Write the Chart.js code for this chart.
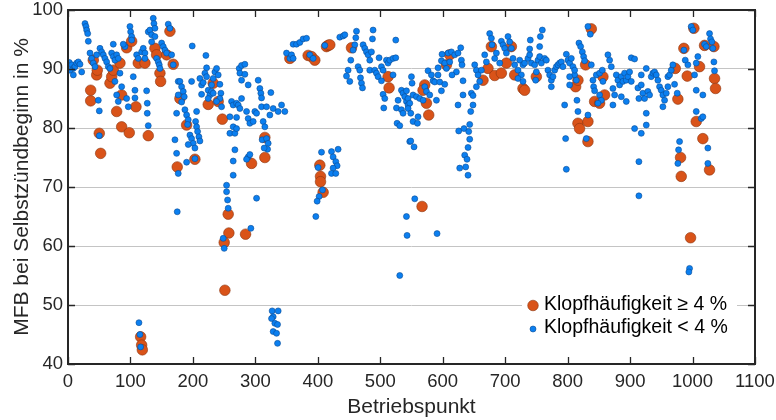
<!DOCTYPE html>
<html>
<head>
<meta charset="utf-8">
<script src="https://cdn.jsdelivr.net/npm/chart.js@4.4.1/dist/chart.umd.min.js"></script>
<style>
  html, body { margin: 0; padding: 0; background: #fff; }
</style>
</head>
<body>
<canvas id="chart" width="776" height="420"></canvas>
<script>
// series labels
const highLabel = 'Klopfhäufigkeit \u2265 4 %';
const lowLabel = 'Klopfhäufigkeit < 4 %';

// axis ranges
const xRange = [0, 1100];
const yRange = [40, 100];

// Klopfhäufigkeit >= 4 %  [Betriebspunkt, MFB]
const highPts = [
  [36.3,86.4],[36.3,84.6],[45.9,89.0],[46.9,89.8],[50.1,79.1],[52.3,75.7],[40.5,91.5],[77.9,82.8],[85.9,85.6],[85.9,80.2],
  [98.1,79.2],[67.2,87.6],[69.9,88.7],[72.5,89.8],[83.2,91.0],[108.8,83.6],[93.9,93.6],[101.9,94.7],[112.5,91.0],[123.2,91.0],
  [128.5,78.7],[139.2,93.5],[141.9,92.4],[147.2,89.3],[148.3,87.9],[157.9,92.4],[163.2,96.4],[168.5,90.8],[174.9,73.4],
  [116.3,44.6],[117.9,43.2],[119.0,42.4],
  [179.2,85.0],[189.9,80.5],[203.2,74.7],[224.5,84.0],[232.5,87.6],[240.5,84.5],[247.1,81.5],[293.9,74.0],[315.2,78.4],[315.2,75.0],
  [256.5,65.4],[257.6,62.2],[250.1,60.6],[284.3,62.0],[251.2,52.5],
  [355.2,91.8],[384.5,92.3],[389.9,92.1],[395.2,91.5],[413.9,93.8],[416.5,94.0],[419.2,94.1],[453.9,93.6],[512.5,88.7],[514.1,86.8],
  [403.2,73.7],[404.3,71.8],[404.3,70.9],[408.5,69.1],
  [611.2,92.4],[605.9,90.7],[571.2,87.3],[568.5,86.4],[573.9,84.2],[577.6,82.2],[566.9,66.7],[664.5,88.1],[672.5,90.1],[677.9,93.8],
  [683.2,88.9],[693.9,89.3],[701.9,91.0],[709.9,93.8],[715.2,89.0],[728.5,86.7],
  [731.2,86.4],[749.9,88.7],[812.8,87.0],[816.5,88.1],[816.5,80.8],[819.1,79.9],[832.5,81.1],[832.5,77.7],[828.8,90.7],[837.9,96.8],
  [843.2,84.5],[851.2,84.2],[859.2,85.6],[856.5,88.7],
  [1002.1,96.9],[986.1,93.5],[972.3,90.1],[991.5,88.8],[1011.2,90.4],[1019.2,94.0],[1034.2,93.8],[1035.2,88.4],[1036.8,86.7],[976.5,84.9],
  [1005.9,81.1],[1016.5,78.2],[980.8,75.0],[981.9,71.8],[1027.2,72.9],[996.8,61.4]
];

// Klopfhäufigkeit < 4 %
const lowPts = [
  [2.1,91.1],[5.9,90.7],[8.5,90.1],[11.2,90.4],[13.9,91.0],[16.5,91.2],[19.2,90.8],[21.9,89.5],[8.5,89.0],[3.2,89.8],
  [27.2,97.7],[28.8,97.2],[29.9,96.6],[31.5,96.0],[32.5,94.7],[35.2,92.7],[37.9,91.8],[40.5,91.0],[43.2,90.4],[45.9,92.4],
  [51.2,93.5],[53.9,92.9],[56.5,92.4],[59.2,91.8],[61.9,91.2],[64.5,90.4],[67.2,90.1],[69.9,92.7],[72.5,92.1],[75.2,91.5],
  [77.9,92.4],[80.5,91.8],[72.5,94.2],[83.2,89.3],[75.2,87.9],[77.9,85.6],[85.9,87.0],[80.5,84.5],[93.9,85.0],[96.5,83.6],
  [107.2,86.4],[107.2,85.1],[104.5,88.7],[48.5,84.7],[50.1,82.9],[50.1,78.7],[91.2,93.8],[88.5,94.2],[99.2,97.2],[100.3,96.3],
  [101.9,95.5],[101.9,94.9],[109.9,92.4],[112.5,91.8],[117.9,92.9],[120.5,93.5],[123.2,92.7],[123.2,91.8],[125.9,86.3],[126.9,84.2],
  [126.9,82.5],[128.5,80.4],[128.5,96.3],[131.2,96.6],[133.9,95.8],[133.9,94.6],[136.5,98.6],[137.6,97.7],[139.2,96.9],[139.2,95.5],
  [141.9,91.8],[144.5,91.2],[146.1,90.7],[147.2,90.1],[149.9,94.4],[152.5,93.8],[155.2,93.2],[157.9,92.7],[160.5,97.6],[163.2,96.9],
  [165.9,92.4],[168.5,90.7],[176.5,87.9],[176.5,85.6],[173.9,82.5],[171.2,78.0],[173.9,75.7],[174.9,65.8],[113.6,47.0],[115.2,45.0],[116.3,42.9],
  [198.9,93.9],[220.8,92.3],[221.9,90.2],[219.2,89.3],[221.9,88.7],[179.2,87.9],[181.9,87.0],[184.5,86.2],[186.1,85.3],[181.9,84.4],
  [187.2,83.1],[189.9,82.2],[192.5,81.4],[191.5,80.6],[195.2,78.8],[197.9,78.2],[200.5,77.4],[203.2,76.6],[192.5,77.2],
  [176.5,72.3],[189.9,74.2],[203.2,74.8],[205.9,82.8],[204.3,81.1],[205.9,80.2],[207.5,79.4],[209.6,78.5],[211.2,77.8],[197.9,87.9],
  [211.2,88.4],[213.9,87.3],[216.5,87.7],[213.9,85.7],[224.5,86.4],[227.2,85.6],[229.9,86.2],[232.5,85.9],[229.9,87.3],[232.5,88.4],
  [235.2,89.5],[237.9,90.1],[240.5,89.0],[243.2,87.4],[244.8,85.9],[243.2,85.0],[245.9,83.6],[237.9,84.5],[224.5,85.0],[261.9,84.5],
  [264.5,83.9],[259.2,81.9],[269.9,84.2],[272.5,83.9],[275.2,83.3],[277.9,85.0],[269.9,81.8],[264.5,80.2],[259.2,79.1],[267.2,79.1],
  [269.9,79.9],[267.2,76.3],[264.5,74.4],[264.5,72.0],[253.9,70.3],[253.9,69.2],[255.5,67.8],[256.5,66.4],[248.5,61.3],[250.1,59.6],
  [274.1,90.1],[277.9,90.6],[283.2,90.8],[275.2,89.3],[283.2,89.1],[277.9,88.1],[288.5,87.3],[285.9,82.8],[288.5,81.6],[291.2,80.8],
  [296.5,81.1],[288.5,75.1],[285.9,74.7],[291.2,75.5],[301.9,68.1],[292.8,63.0],[304.5,88.1],[307.2,86.7],[308.8,85.9],[309.9,85.1],
  [324.8,86.0],[299.2,82.8],[301.9,82.5],[309.9,83.6],[317.9,83.6],[323.2,82.2],[312.5,81.1],[315.2,80.2],[310.9,78.0],[317.9,78.2],
  [320.5,77.4],[319.5,76.4],[314.1,76.6],[328.5,83.3],[336.5,82.8],[341.9,83.9],[347.2,82.8],[360.5,94.2],[349.9,92.7],[355.2,91.8],
  [326.9,49.0],[336.5,49.0],[328.5,48.0],[325.9,47.7],[331.2,46.9],[335.5,46.7],[328.5,45.5],[333.9,45.2],[335.5,43.5],
  [357.9,92.4],[360.5,91.8],[365.9,94.2],[371.2,94.5],[376.5,95.1],[381.9,95.2],[387.2,92.4],[392.5,91.8],[411.2,94.0],[435.2,95.4],
  [440.5,95.6],[443.2,95.8],[461.9,96.4],[460.8,95.3],[459.2,94.1],[456.5,93.2],[452.8,91.5],[448.5,89.8],[445.9,88.8],[451.2,87.9],
  [464.5,90.4],[467.2,89.8],[468.3,88.5],[469.9,87.6],[471.5,86.8],[472.5,94.1],[475.2,93.5],[477.9,92.9],[480.5,92.4],[483.2,91.5],
  [485.9,92.9],[483.2,89.8],[488.5,96.6],[487.5,95.1],[491.2,89.8],[493.9,89.3],[496.5,88.7],[498.1,91.9],[501.9,90.4],[504.5,89.8],
  [509.9,91.5],[512.5,91.0],[515.2,91.5],[520.5,91.8],[524.8,91.9],[524.8,94.9],[520.5,89.0],[501.9,88.0],[504.5,85.7],[507.2,85.0],
  [505.6,83.4],[533.9,86.4],[536.5,85.9],[528.5,84.7],[525.9,83.4],[533.9,83.1],[536.5,82.5],[539.2,85.3],[541.9,84.5],[526.9,80.8],
  [531.2,80.4],[544.5,83.9],[547.2,77.7],[541.9,65.0],[542.9,61.8],[531.2,55.0],[405.9,75.9],[421.9,76.0],[432.5,76.4],[424.5,75.1],
  [428.8,74.3],[430.9,73.6],[424.5,73.2],[421.9,72.3],[428.8,72.3],[400.5,73.3],[407.5,69.5],[402.1,68.4],[398.9,67.6],[396.8,65.0],
  [541.9,86.3],[544.5,85.0],[547.2,84.2],[544.5,83.3],[548.8,82.5],[552.5,81.1],[559.5,80.8],[560.5,81.9],[549.9,88.7],[550.9,87.6],
  [552.5,85.6],[557.9,85.3],[563.2,85.0],[568.5,84.7],[548.8,77.8],[554.1,76.8],[555.2,68.0],[590.9,62.1],[576.5,89.7],[581.9,89.0],
  [584.5,88.0],[587.2,87.8],[592.5,89.0],[592.5,90.2],[595.2,87.8],[597.9,86.3],[603.2,87.4],[589.9,84.7],[571.2,87.0],[573.9,86.2],
  [579.2,85.6],[597.9,91.4],[598.9,92.5],[603.2,91.0],[605.9,90.1],[608.5,92.7],[613.9,92.9],[619.2,92.4],[624.5,92.7],[628.8,93.6],
  [629.9,91.5],[630.9,90.7],[621.9,89.5],[614.9,89.0],[611.2,91.2],[632.5,88.0],[632.5,85.6],[624.5,83.9],[625.6,79.5],[634.1,79.9],
  [641.6,79.4],[643.2,80.6],[643.2,78.1],[640.5,76.7],[635.2,75.4],[638.9,74.7],[627.2,73.2],[636.8,73.4],[640.5,72.0],[645.9,85.9],
  [648.5,85.5],[648.5,83.9],[644.8,82.8],[651.2,90.7],[653.9,89.8],[656.5,89.0],[653.9,87.0],[659.2,87.9],[661.9,89.8],[667.2,92.4],
  [669.9,91.2],[675.2,96.0],[677.9,95.2],[678.9,94.1],[683.2,91.8],[685.9,92.7],[691.2,91.0],[693.9,94.7],[696.5,94.1],[699.2,93.5],
  [704.5,95.5],[707.2,94.6],[709.9,93.5],[712.5,91.8],[715.2,90.7],[720.5,89.8],[723.2,91.5],[725.9,89.0],[728.5,90.7],[720.5,88.4],[701.9,92.7],
  [728.5,87.9],[731.2,91.0],[736.5,91.8],[739.2,92.4],[741.9,91.0],[747.2,90.7],[749.9,89.5],[748.8,88.1],[752.5,91.5],[755.2,92.1],
  [757.9,91.0],[763.2,91.8],[765.9,91.5],[740.2,94.9],[739.2,93.4],[755.2,93.8],[756.3,95.5],[759.5,96.6],[768.5,89.8],[771.2,89.0],
  [773.9,88.1],[773.9,87.0],[776.5,88.7],[779.2,89.8],[781.9,90.4],[784.5,90.7],[787.2,91.0],[789.9,91.2],[792.5,90.4],[797.9,92.5],
  [800.5,91.5],[803.2,91.0],[805.9,91.8],[808.5,90.4],[811.2,89.0],[813.9,88.1],[811.2,89.8],[803.2,88.7],[803.2,87.3],[795.2,83.9],
  [814.9,84.7],[816.5,82.8],[796.8,78.2],[797.9,73.0],[818.1,94.4],[820.8,93.8],[823.5,92.9],[825.6,92.1],[827.2,91.4],[832.5,97.2],
  [836.3,95.9],[837.9,90.7],[840.5,88.1],[841.6,87.0],[843.2,86.3],[845.9,89.0],[851.2,89.3],[855.5,89.8],[856.5,87.9],[851.2,85.6],
  [853.9,84.7],[848.5,84.2],[832.5,82.2],[829.9,78.2],[864.5,92.4],[867.2,91.5],[869.9,90.4],[872.5,86.7],[875.2,85.6],[872.5,83.9],
  [877.9,89.0],[880.5,88.1],[883.2,87.3],[885.9,88.7],[888.5,87.9],[891.2,89.3],[893.9,88.1],[896.5,88.7],[899.2,89.5],[901.9,87.9],
  [893.9,84.5],[885.9,85.3],[901.9,91.9],[907.2,91.7],[912.5,86.8],[914.1,85.0],[907.2,79.9],[914.1,74.3],[914.1,68.5],
  [925.9,90.1],[917.9,89.0],[917.9,87.3],[920.5,85.9],[923.2,85.0],[928.5,86.2],[931.2,85.6],[925.9,82.5],[925.9,80.5],[917.9,79.1],
  [933.9,88.7],[936.5,89.3],[939.2,89.5],[941.9,89.0],[944.5,88.1],[947.2,87.0],[949.9,86.4],[952.5,85.6],[955.2,84.7],[957.9,85.9],
  [960.5,87.0],[952.5,83.6],[960.5,88.7],[963.2,89.0],[965.9,89.8],[968.5,90.7],[971.2,87.4],[975.5,85.9],[979.2,77.7],[977.6,76.3],
  [976.5,74.0],[986.1,93.2],[988.3,91.5],[992.5,90.7],[997.9,97.2],[1000.5,96.6],[1005.9,91.0],[1008.5,92.1],[1003.2,89.0],[1005.9,86.4],
  [1016.5,85.6],[1005.9,82.8],[1013.9,81.6],[1016.5,81.9],[1024.5,76.6],[1024.5,74.0],[1019.2,94.2],[1021.9,93.8],[1027.2,96.0],[1028.8,95.1],
  [1030.9,94.6],[1032.5,93.5],[1034.2,91.2],[1035.2,89.7],[995.2,56.2],[994.1,55.6]
];

const orange = '#d95319', orangeEdge = '#8c3511';
const blue = '#0b7ff0', blueEdge = '#0a4c94';
const axisColor = '#262626';
const fontFamily = "'Liberation Sans', Arial, sans-serif";

const toXY = arr => arr.map(p => ({ x: p[0], y: p[1] }));

// box round the plot with inward ticks (MATLAB look)
const framePlugin = {
  id: 'frame',
  afterDatasetsDraw(chart) {
    const { ctx, chartArea: a, scales: { x, y } } = chart;
    ctx.save();
    ctx.strokeStyle = axisColor;
    ctx.lineWidth = 1.3;
    ctx.beginPath();
    x.ticks.forEach(t => {
      const px = Math.round(x.getPixelForValue(t.value)) + 0.5;
      ctx.moveTo(px, a.bottom); ctx.lineTo(px, a.bottom - 7);
      ctx.moveTo(px, a.top); ctx.lineTo(px, a.top + 7);
    });
    y.ticks.forEach(t => {
      const py = Math.round(y.getPixelForValue(t.value)) + 0.5;
      ctx.moveTo(a.left, py); ctx.lineTo(a.left + 7, py);
      ctx.moveTo(a.right, py); ctx.lineTo(a.right - 7, py);
    });
    ctx.stroke();
    ctx.lineWidth = 2;
    ctx.strokeRect(a.left, a.top, a.right - a.left, a.bottom - a.top);
    ctx.restore();
  }
};

// legend drawn inside the plot, bottom right
const legendPlugin = {
  id: 'insideLegend',
  afterDraw(chart) {
    const { ctx, chartArea: a } = chart;
    const left = a.right - 233, top = a.bottom - 72;
    ctx.save();
    ctx.fillStyle = '#fff';
    ctx.fillRect(left, top, 215, 49);
    const rows = [
      { label: highLabel, r: 5.3, fill: orange, edge: orangeEdge, y: top + 12.5 },
      { label: lowLabel, r: 3, fill: blue, edge: blueEdge, y: top + 36 }
    ];
    rows.forEach(row => {
      ctx.beginPath();
      ctx.arc(left + 11, row.y + 1, row.r, 0, Math.PI * 2);
      ctx.fillStyle = row.fill;
      ctx.fill();
      ctx.lineWidth = 0.6;
      ctx.strokeStyle = row.edge;
      ctx.stroke();
      ctx.fillStyle = '#000';
      ctx.font = '19.5px ' + fontFamily;
      ctx.textBaseline = 'middle';
      ctx.textAlign = 'left';
      ctx.fillText(row.label, left + 22, row.y);
    });
    ctx.restore();
  }
};

Chart.defaults.font.family = fontFamily;
Chart.defaults.color = axisColor;

new Chart(document.getElementById('chart'), {
  type: 'scatter',
  data: {
    datasets: [
      {
        label: lowLabel,
        data: toXY(lowPts),
        backgroundColor: blue,
        borderColor: blueEdge,
        borderWidth: 0.6,
        pointRadius: 3,
        order: 0
      },
      {
        label: highLabel,
        data: toXY(highPts),
        backgroundColor: orange,
        borderColor: orangeEdge,
        borderWidth: 0.6,
        pointRadius: 5.3,
        order: 1
      }
    ]
  },
  options: {
    responsive: false,
    animation: false,
    events: [],
    layout: { padding: { top: 10, right: 21, left: 0, bottom: 0 } },
    plugins: {
      legend: { display: false },
      tooltip: { enabled: false }
    },
    scales: {
      x: {
        type: 'linear',
        min: xRange[0],
        max: xRange[1],
        ticks: {
          stepSize: 100, autoSkip: false, maxRotation: 0, padding: 9, color: axisColor,
          font: { size: 18.5, lineHeight: 1 },
          callback: v => String(v)
        },
        grid: { display: false, drawTicks: false },
        border: { display: false },
        title: { display: true, text: 'Betriebspunkt', color: axisColor, font: { size: 21 }, padding: { top: 0, bottom: 0 } },
        afterFit: s => { s.height = 56; s.paddingLeft = 0; s.paddingRight = 0; }
      },
      y: {
        min: yRange[0],
        max: yRange[1],
        ticks: { stepSize: 10, padding: 5, color: axisColor, font: { size: 18.5, lineHeight: 1 } },
        grid: {
          drawTicks: false,
          color: ctx => (ctx.tick && ctx.tick.value > yRange[0] && ctx.tick.value < yRange[1]) ? '#c4c4c4' : 'rgba(0,0,0,0)',
          lineWidth: 1
        },
        border: { display: false },
        title: { display: true, text: 'MFB bei Selbstzündbeginn in %', color: axisColor, font: { size: 21 }, padding: { top: 10, bottom: 0 } },
        afterFit: s => { s.width = 68; s.paddingTop = 0; s.paddingBottom = 0; }
      }
    }
  },
  plugins: [framePlugin, legendPlugin]
});
</script>
</body>
</html>
